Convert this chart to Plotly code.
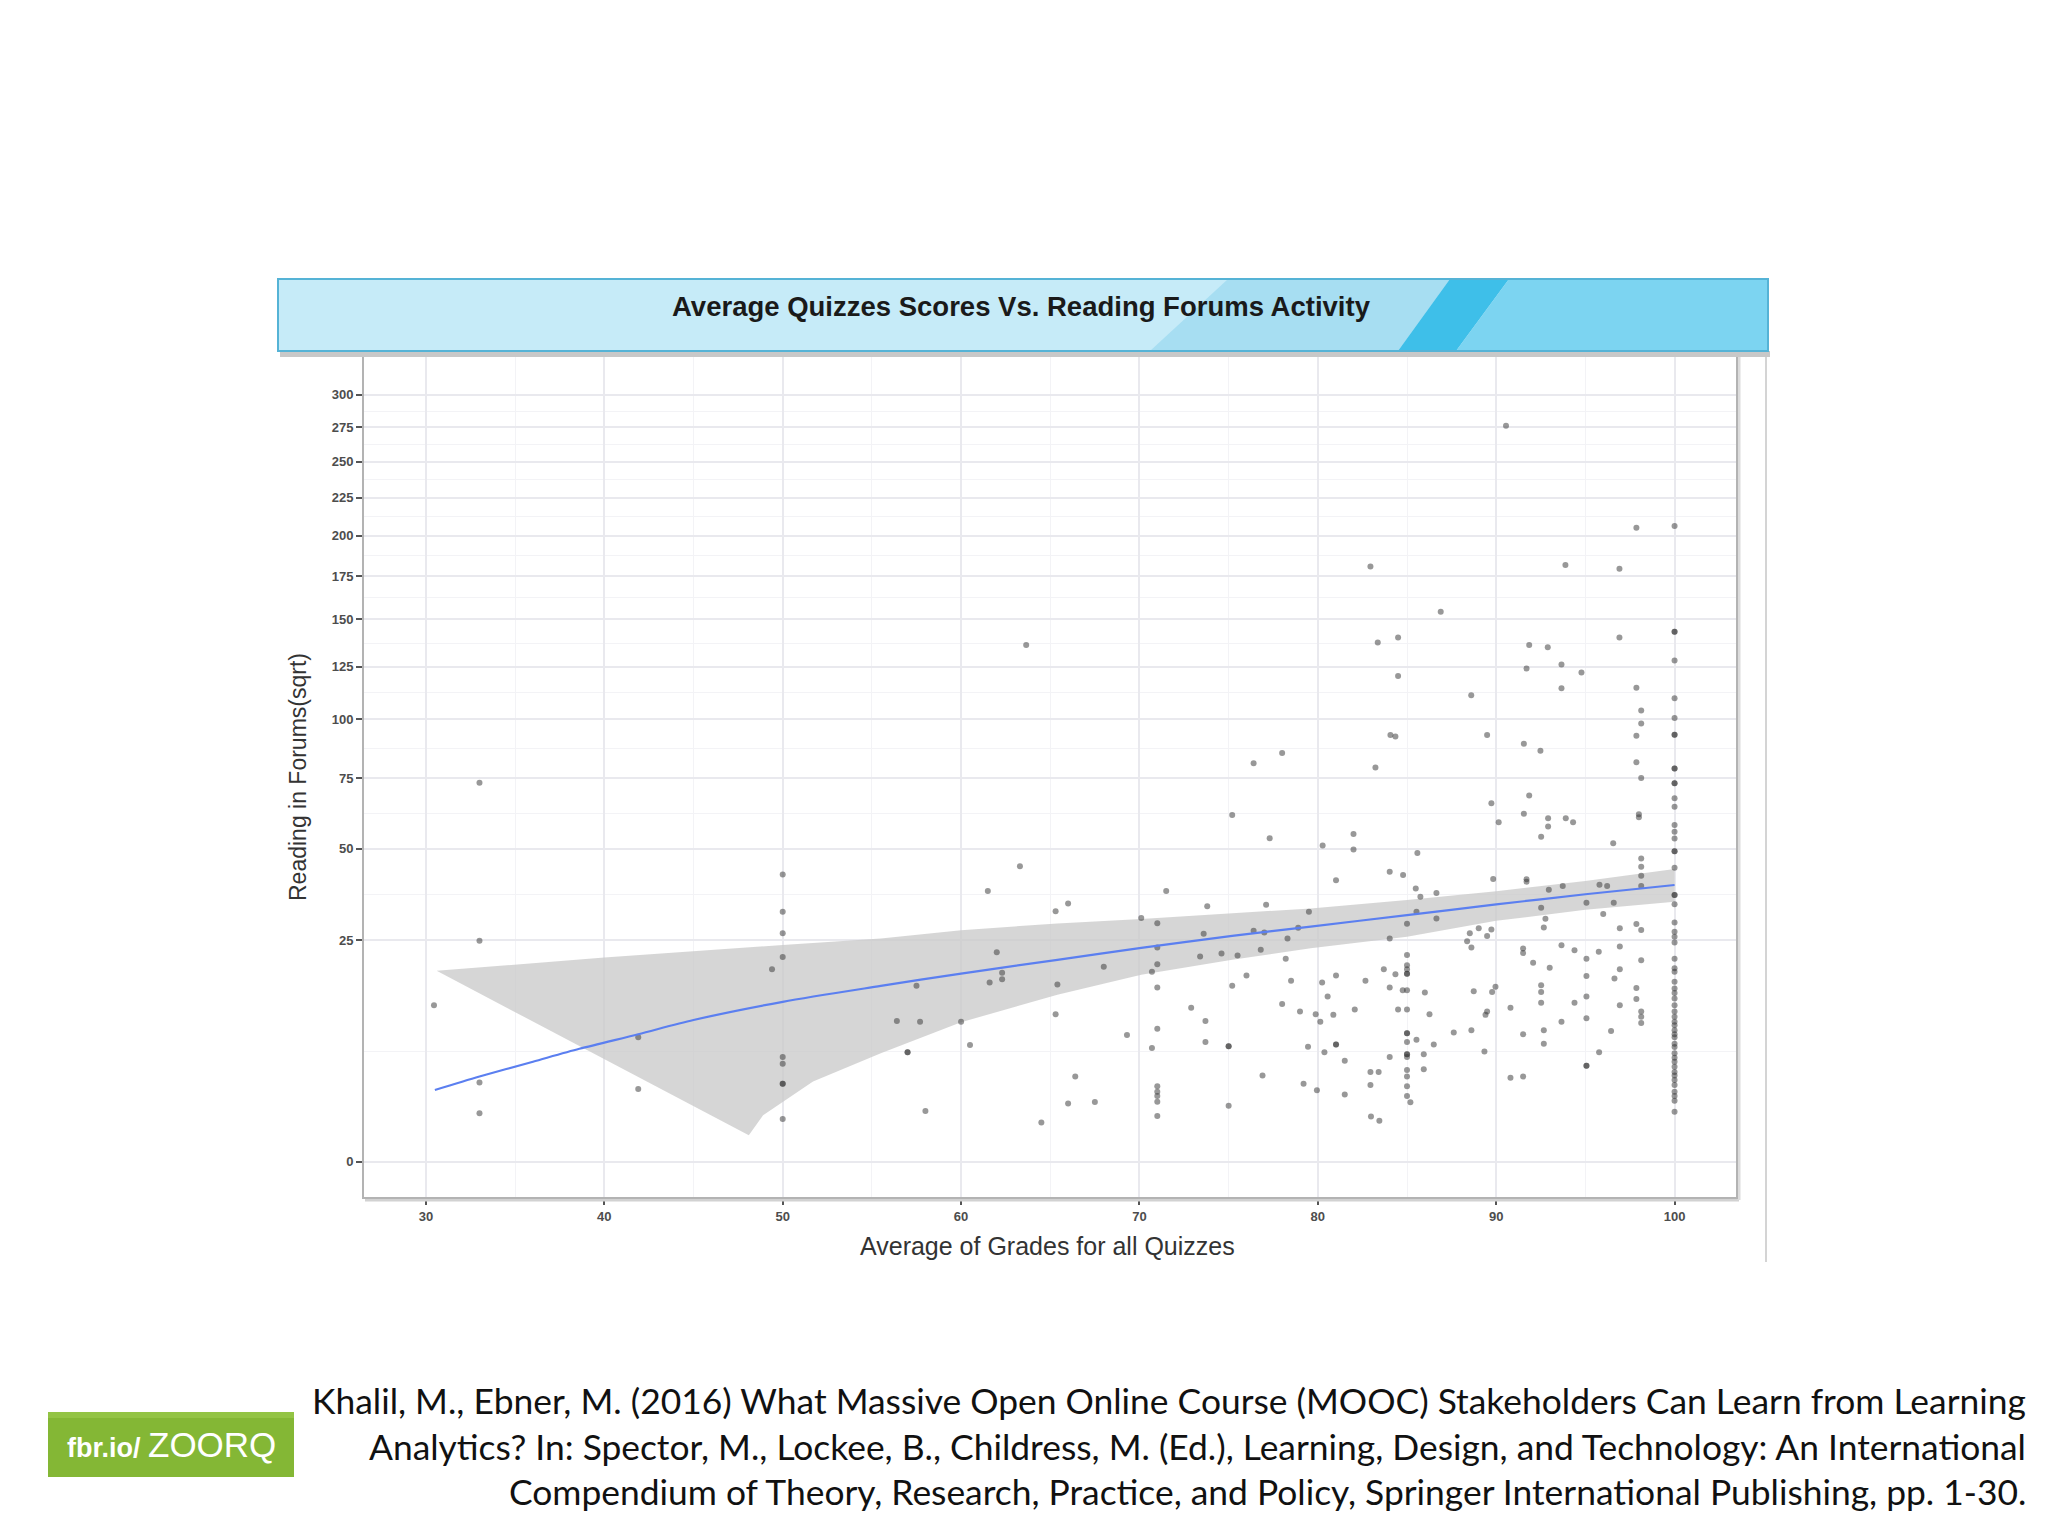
import numpy as np
import plotly.graph_objects as go

# ---------------- data ----------------
grade = [
    33.0, 33.0, 30.45, 33.0, 33.0, 41.9, 41.9, 50.0, 50.0, 50.0, 50.0, 49.4, 50.0, 50.0, 50.0, 50.0, 50.0,
    78.0, 76.4, 75.2, 77.3, 63.3, 61.5, 71.5, 65.3, 66.0, 73.8, 77.1, 70.1, 71.0, 79.5, 76.4, 77.0, 73.6,
    78.9, 78.3, 71.0, 62.0, 73.4, 74.6, 75.5, 76.8, 78.2, 71.0, 68.0, 62.3, 62.3, 61.6, 70.7, 57.5, 65.4,
    71.0, 75.2, 76.0, 78.5, 78.0, 79.0, 72.9, 73.7, 56.4, 57.7, 60.0, 65.3, 71.0, 69.3, 73.7, 75.0, 75.0,
    79.45, 70.7, 57.0, 57.0, 60.5, 66.4, 76.9, 79.2, 71.0, 71.0, 71.0, 71.0, 71.0, 66.0, 67.5, 58.0, 64.5, 75.0,
    88.6, 93.66, 97.86, 98.13, 98.13, 97.86, 97.86, 98.13, 98.0, 98.0,
    83.23, 84.07, 84.35, 89.49, 91.55, 92.48, 91.85, 89.73, 91.55, 92.91, 92.91, 93.9, 94.31, 90.14, 92.52,
    96.56, 82.0, 82.0, 80.27, 85.58, 81.02, 84.03, 84.78, 85.49, 85.75, 86.65, 89.83, 91.7, 91.7,
    85.53, 85.0, 86.65, 84.03, 92.95, 93.73, 95.79, 96.22, 95.06, 96.59, 92.52, 96.0, 92.76, 92.67,
    98.13, 98.13, 98.13, 98.13, 97.86, 98.13, 96.93, 96.93, 89.02, 88.52, 89.73, 89.49, 88.37, 88.61,
    91.51, 91.51, 93.66, 94.39, 95.06, 95.75, 92.07, 93.0, 98.13, 96.93, 96.63, 95.06, 95.06, 95.06,
    95.06, 95.06, 97.86, 97.86, 98.13, 98.13, 98.13, 96.93, 96.44, 95.77, 94.39, 93.66, 92.52, 92.52,
    92.52, 92.67, 92.67, 91.51, 90.8, 90.8, 91.51, 89.96, 89.77, 88.74, 89.49, 89.4, 88.61, 87.62, 89.34,
    86.5, 85.94, 85.94, 85.53, 86.26, 86.0,
    85.0, 85.0, 85.0, 85.0, 85.0, 85.0, 85.0, 85.0, 85.0, 85.0, 85.0, 85.0, 85.0, 85.0, 85.0, 85.0, 85.0, 85.19,
    84.5, 84.76, 84.35, 84.03, 83.7, 84.03, 82.95, 83.41, 82.95, 82.98, 83.45, 82.67, 82.07, 81.02, 80.24,
    80.55, 79.88, 80.14, 80.87, 81.02, 81.02, 80.37, 81.51, 81.51, 79.95,
    90.55, 97.86, 82.95, 93.88, 96.91, 86.89, 83.36, 84.5, 91.85, 92.89, 96.91, 84.5, 91.7, 93.66, 94.78,
    63.65,
    100, 100, 100, 100, 100, 100, 100, 100, 100, 100, 100, 100, 100, 100, 100, 100, 100, 100, 100, 100,
    100, 100, 100, 100, 100, 100, 100, 100, 100, 100, 100, 100, 100, 100, 100, 100, 100, 100, 100, 100,
    100, 100, 100, 100, 100, 100, 100, 100, 100, 100, 100, 100, 100, 100, 100, 100,
]
reading = [
    73.3, 24.9, 12.5, 3.2, 1.2, 7.9, 2.7, 42.1, 31.9, 26.6, 21.4, 18.9, 5.6, 4.9, 3.1, 3.1, 0.93,
    85.2, 81.0, 61.3, 53.4, 44.5, 37.4, 37.4, 32.0, 34.0, 33.3, 33.7, 30.3, 29.0, 31.9, 27.2, 26.8, 26.5,
    27.9, 25.4, 23.4, 22.4, 21.5, 22.1, 21.7, 22.9, 21.0, 19.9, 19.4, 18.2, 17.0, 16.4, 18.4, 15.8, 16.0,
    15.5, 15.8, 17.7, 16.7, 12.7, 11.5, 12.1, 10.1, 10.1, 10.0, 10.0, 11.1, 9.0, 8.2, 7.3, 6.8, 6.8,
    6.75, 6.6, 6.1, 6.1, 6.95, 3.7, 3.8, 3.1, 2.9, 2.5, 2.2, 1.84, 1.07, 1.73, 1.82, 1.31, 0.78, 1.6,
    111.0, 114.3, 114.6, 103.8, 97.9, 92.5, 81.4, 75.1, 61.6, 60.5,
    79.3, 92.9, 92.2, 92.9, 89.1, 86.2, 68.4, 65.5, 61.8, 60.2, 57.3, 60.2, 58.8, 58.8, 53.9,
    51.7, 54.8, 49.7, 51.0, 48.6, 40.4, 42.9, 41.9, 38.1, 35.8, 36.8, 40.8, 40.7, 40.0,
    31.9, 28.9, 30.2, 25.4, 37.7, 38.8, 39.1, 38.8, 34.2, 34.2, 32.9, 31.3, 30.1, 28.0,
    46.9, 44.4, 41.7, 38.8, 28.8, 27.4, 27.8, 23.6, 27.8, 26.6, 27.5, 26.0, 24.8, 23.4,
    23.2, 22.2, 23.9, 22.8, 21.0, 22.5, 20.2, 19.2, 20.7, 18.9, 17.1, 17.6, 13.9, 10.5,
    4.7, 4.7, 15.4, 13.5, 11.5, 10.7, 9.8, 12.5, 8.7, 6.1, 12.9, 10.0, 15.9, 14.7,
    12.9, 8.8, 7.1, 8.3, 12.1, 3.6, 3.7, 15.6, 14.7, 14.8, 11.5, 11.0, 8.8, 8.5, 6.2,
    7.0, 5.9, 4.35, 7.6, 11.1, 14.6,
    21.8, 19.7, 18.9, 18.0, 18.0, 15.0, 11.8, 8.4, 8.4, 7.3, 5.9, 5.9, 5.6, 4.3, 3.7, 2.9, 2.2, 1.8,
    11.8, 15.0, 17.9, 15.5, 18.9, 5.6, 4.1, 4.1, 3.0, 1.04, 0.85, 16.7, 11.8, 17.7, 16.4,
    13.9, 11.1, 10.0, 11.0, 7.0, 7.0, 6.1, 5.2, 2.3, 2.6,
    276.2, 205.0, 180.7, 181.6, 179.3, 154.3, 137.5, 140.2, 136.2, 135.0, 140.2, 120.3, 124.1, 126.1, 122.1,
    136.2,
    206.2, 143.3, 143.3, 128.1, 109.6, 100.4, 93.0, 93.0, 78.9, 78.9, 73.1, 73.1, 67.4, 64.3, 57.8, 55.5,
    53.3, 49.2, 49.2, 44.1, 36.3, 36.3, 33.8, 29.2, 27.0, 25.8, 24.5, 21.0, 19.1, 18.4, 16.5, 15.3,
    14.5, 13.6, 12.5, 11.5, 10.7, 10.0, 9.5, 8.8, 8.3, 7.9, 7.1, 6.7, 6.0, 5.5, 5.1, 4.6, 4.1, 3.8,
    3.4, 3.0, 2.5, 2.2, 1.9, 1.27,
]

# loess fit and its confidence band (original units)
fit_x = [30.5, 33.0, 36.0, 38.6, 41.9, 45.0, 50.0, 55.5, 60.0, 65.4, 70.1, 75.2, 79.6, 85.0, 90.0, 95.0, 100.0]
fit_y = [2.62, 3.70, 5.10, 6.50, 8.29, 10.24, 13.03, 15.76, 18.06, 20.79, 23.33, 26.01, 28.2, 31.02, 33.76, 36.48, 39.06]
upper_x = [30.6, 40.0, 50.0, 55.5, 60.0, 65.4, 70.1, 75.2, 79.6, 85.0, 90.0, 95.0, 100.0]
upper_y = [18.58, 21.25, 23.96, 25.4, 27.35, 28.94, 30.03, 31.36, 32.72, 34.93, 37.33, 40.2, 43.69]
lower_x = [30.6, 48.1, 48.9, 50.0, 51.7, 55.5, 60.0, 65.4, 70.1, 75.2, 79.6, 85.0, 90.0, 95.0, 100.0]
lower_y = [18.58, 0.36, 1.10, 1.84, 3.28, 6.0, 9.92, 14.21, 17.81, 20.79, 23.23, 25.81, 29.59, 32.38, 34.46]

x_ticks = [30, 40, 50, 60, 70, 80, 90, 100]
y_ticks = [0, 25, 50, 75, 100, 125, 150, 175, 200, 225, 250, 275, 300]

title_text = "Average Quizzes Scores Vs. Reading Forums Activity"
x_title = "Average of Grades for all Quizzes"
y_title = "Reading in Forums(sqrt)"
citation = [
    "Khalil, M., Ebner, M. (2016) What Massive Open Online Course (MOOC) Stakeholders Can Learn from Learning",
    "Analytics? In: Spector, M., Lockee, B., Childress, M. (Ed.), Learning, Design, and Technology: An International",
    "Compendium of Theory, Research, Practice, and Policy, Springer International Publishing, pp. 1-30.",
]

# ---------------- layout geometry (screen pixels) ----------------
W, H = 2048, 1536
OFF = 8  # page body margin of the html page
L, R, T, B = 363, 1737, 355, 1198
PW, PH = R - L, B - T


def px(x):
    return (x - L) / PW


def py(y):
    return (B - y) / PH


sq = np.sqrt

fig = go.Figure()

# confidence band
band_x = upper_x + lower_x[::-1]
band_y = list(sq(upper_y)) + list(sq(lower_y[::-1]))
fig.add_trace(go.Scatter(x=band_x, y=band_y, fill="toself", mode="lines",
                         line=dict(width=0), fillcolor="rgba(200,200,200,0.75)",
                         hoverinfo="skip", showlegend=False))
# points
fig.add_trace(go.Scatter(x=grade, y=sq(reading), mode="markers",
                         marker=dict(size=6, color="rgba(50,50,50,0.5)", line=dict(width=0)),
                         showlegend=False))
# fit line
fig.add_trace(go.Scatter(x=fit_x, y=sq(fit_y), mode="lines",
                         line=dict(color="#5b7ff0", width=2.2, shape="spline", smoothing=0.8),
                         showlegend=False))

x_minor = [v + 5 for v in x_ticks[:-1]]
y_minor = [(sq(a) + sq(b)) / 2 for a, b in zip(y_ticks[:-1], y_ticks[1:])]

tickfont = dict(family="Liberation Sans", size=13, color="#4d4d4d", weight="bold")
fig.update_xaxes(range=[26.47, 103.5], tickmode="array", tickvals=x_ticks,
                 ticktext=[str(v) for v in x_ticks], ticks="outside", ticklen=6,
                 tickwidth=1.5, tickcolor="#555", tickfont=tickfont,
                 showgrid=True, gridcolor="#e9e9ee", gridwidth=1.6, zeroline=False,
                 showline=False,
                 minor=dict(tickmode="array", tickvals=x_minor, showgrid=True,
                            gridcolor="#f3f3f6", gridwidth=1, ticklen=0))
fig.update_yaxes(range=[-0.82, 18.22], tickmode="array", tickvals=list(sq(y_ticks)),
                 ticktext=[str(v) for v in y_ticks], ticks="outside", ticklen=6,
                 tickwidth=1.5, tickcolor="#555", tickfont=tickfont,
                 showgrid=True, gridcolor="#e9e9ee", gridwidth=1.6, zeroline=False,
                 showline=False,
                 minor=dict(tickmode="array", tickvals=y_minor, showgrid=True,
                            gridcolor="#f3f3f6", gridwidth=1, ticklen=0))

shapes = []


def rect(x0, y0, x1, y1, fill, line=None, lw=0, layer="above"):
    shapes.append(dict(type="rect", xref="paper", yref="paper",
                       x0=px(x0), x1=px(x1), y0=py(y1), y1=py(y0),
                       fillcolor=fill, line=dict(color=line or fill, width=lw), layer=layer))


def poly(pts, fill):
    path = "M " + " L ".join(f"{px(a):.5f},{py(b):.5f}" for a, b in pts) + " Z"
    shapes.append(dict(type="path", xref="paper", yref="paper", path=path,
                       fillcolor=fill, line=dict(width=0), layer="above"))


# panel shadow + border
shapes.append(dict(type="line", xref="paper", yref="paper", x0=px(L + 2), x1=px(R + 2),
                   y0=py(B + 2), y1=py(B + 2), line=dict(color="#d2d2d2", width=3)))
shapes.append(dict(type="line", xref="paper", yref="paper", x0=px(R + 2), x1=px(R + 2),
                   y0=py(T + 2), y1=py(B + 2), line=dict(color="#dcdcdc", width=3)))
shapes.append(dict(type="rect", xref="paper", yref="paper", x0=0, x1=1, y0=0, y1=1,
                   line=dict(color="#b3b3b3", width=2), fillcolor="rgba(0,0,0,0)"))

# slide vertical rule on the right
shapes.append(dict(type="line", xref="paper", yref="paper", x0=px(1766), x1=px(1766),
                   y0=py(352), y1=py(1262), line=dict(color="#d4d4d4", width=2)))

# title banner
rect(280, 351, 1770, 357, "#c8c8c8")
rect(278, 279, 1768, 351, "#c6ebf8")
poly([(1150, 351), (1228, 279), (1450, 279), (1398, 351)], "#a7def2")
poly([(1398, 351), (1450, 279), (1509, 279), (1456, 351)], "#3ebfe9")
poly([(1456, 351), (1509, 279), (1768, 279), (1768, 351)], "#7cd4f1")
shapes.append(dict(type="rect", xref="paper", yref="paper", x0=px(278), x1=px(1768),
                   y0=py(351), y1=py(279), line=dict(color="#55b3d6", width=2),
                   fillcolor="rgba(0,0,0,0)"))

# green badge
rect(48, 1412, 294, 1477, "#84b735")
rect(48, 1412, 294, 1418, "#93c444")


def note(text, x, y, size, color, family="Liberation Sans", xanchor="center", angle=0):
    return dict(text=text, x=px(x), y=py(y), xref="paper", yref="paper", showarrow=False,
                xanchor=xanchor, yanchor="middle", textangle=angle,
                font=dict(family=family, size=size, color=color))


annotations = [
    note(f"<b>{title_text}</b>", 1021, 307, 27.5, "#1a1a1a"),
    note(x_title, 1047, 1246, 25, "#333333"),
    note(y_title, 298, 777, 23, "#333333", angle=-90),
    note("<b>fbr.io/</b> <span style='font-size:35px'>ZOORQ</span>", 171, 1444, 27, "#ffffff"),
]
for line_text, yc in zip(citation, [1400, 1446, 1491]):
    annotations.append(note(line_text, 2028, yc, 35.4, "#111111", family="Lato", xanchor="right"))

fig.update_layout(width=W, height=H, autosize=False,
                  margin=dict(l=L - OFF, r=W - R + OFF, t=T - OFF, b=H - B + OFF, pad=0),
                  paper_bgcolor="white", plot_bgcolor="white",
                  shapes=shapes, annotations=annotations, showlegend=False)

fig.write_html("out.html")
